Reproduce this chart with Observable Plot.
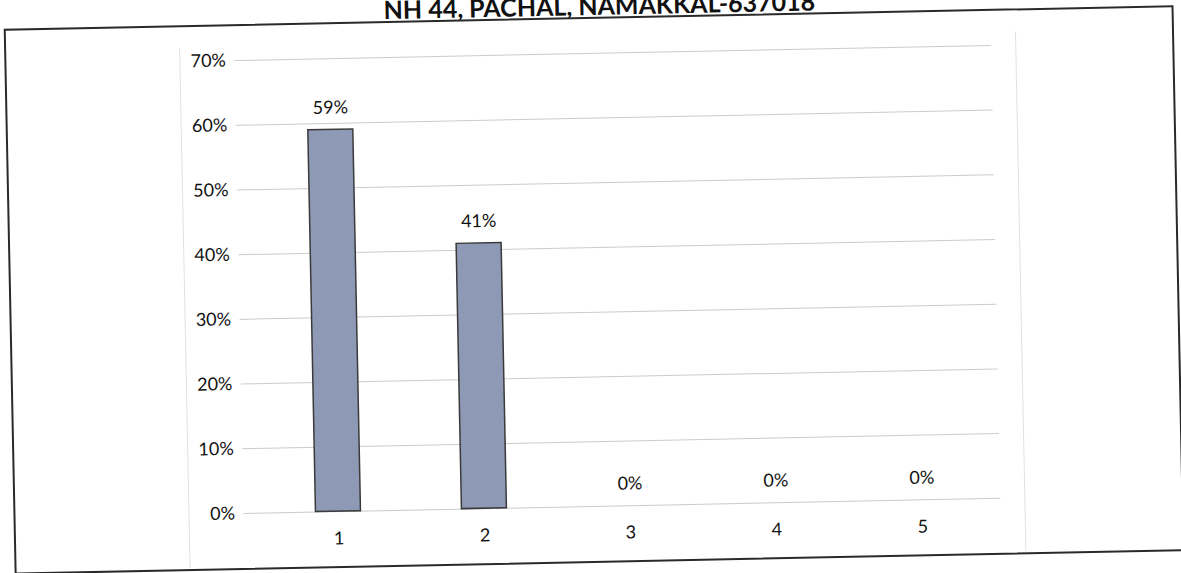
<!DOCTYPE html>
<html>
<head>
<meta charset="utf-8">
<script src="https://cdn.jsdelivr.net/npm/d3@7"></script>
<script src="https://cdn.jsdelivr.net/npm/@observablehq/plot@0.6"></script>
<style>
  html, body { margin: 0; padding: 0; background: #fff; overflow: hidden; }
  #wrap { position: relative; width: 1181px; height: 573px; transform: rotate(-1.15deg); transform-origin: 590.5px 286.5px; }
  #title { position: absolute; left: 0; width: 1210px; top: -7px; text-align: center; font-family: Lato, "Open Sans", sans-serif; font-weight: bold; font-size: 25px; line-height: 25px; color: #111; white-space: nowrap; }
  #frame { position: absolute; left: 9px; top: 17px; width: 1166px; height: 542px; border: 2px solid #2a2a2a; }
  .faint { position: absolute; top: 40px; height: 520px; width: 0; border-left: 1px solid #e2e2e2; }
  #chart { position: absolute; left: 0; top: 0; }
</style>
</head>
<body>
<div id="wrap">
  <div id="title">NH 44, PACHAL, NAMAKKAL-637018</div>
  <div id="frame"></div>
  <div class="faint" style="left:184px"></div>
  <div class="faint" style="left:1020px"></div>
  <div id="chart"></div>
</div>
<script>
const categories = ["1", "2", "3", "4", "5"];
const values = [0.59, 0.41, 0, 0, 0];
const valueLabels = ["59%", "41%", "0%", "0%", "0%"];
const yTicks = [0, 0.1, 0.2, 0.3, 0.4, 0.5, 0.6, 0.7];

const data = categories.map((c, i) => ({cat: c, value: values[i], label: valueLabels[i]}));

const chart = Plot.plot({
  width: 1181,
  height: 573,
  marginLeft: 239,
  marginRight: 185,
  marginTop: 53,
  marginBottom: 67,
  style: {fontFamily: "Lato, 'Open Sans', sans-serif", fontSize: "18px", color: "#111", background: "transparent"},
  x: {domain: categories, paddingInner: 0.694, paddingOuter: 0.347, align: 0.5, insetLeft: 19.6, insetRight: 3.4, label: null},
  y: {domain: [0, 0.7], label: null},
  marks: [
    Plot.gridY(yTicks, {stroke: "#cccccc", strokeOpacity: 1, strokeWidth: 1}),
    Plot.axisY(yTicks, {tickSize: 0, tickPadding: 9, tickFormat: d3.format(".0%"), label: null, fontSize: 18}),
    Plot.axisX({tickSize: 0, tickPadding: 20, label: null, fontSize: 18}),
    Plot.barY(data, {x: "cat", y: "value", filter: d => d.value > 0, fill: "#8e99b6", stroke: "#3a3a3a", strokeWidth: 1.5}),
    Plot.text(data, {x: "cat", y: "value", text: "label", dy: -22, fontSize: 18, fill: "#111"})
  ]
});
document.getElementById("chart").appendChild(chart);
</script>
</body>
</html>
